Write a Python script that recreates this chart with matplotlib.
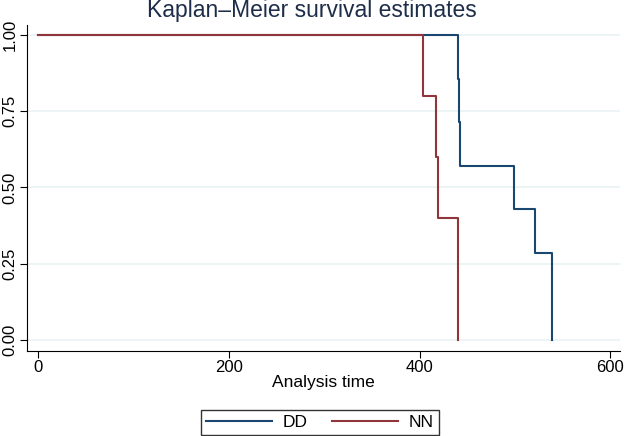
import numpy as np
import matplotlib.pyplot as plt

plt.rcParams['font.family'] = ['Liberation Sans', 'DejaVu Sans']

# survival curves (step points)
dd_time = [0, 440, 441, 442, 499, 521, 539]
dd_surv = [1.0, 0.857, 0.714, 0.571, 0.429, 0.286, 0.0]
nn_time = [0, 403, 417, 419.5, 440]
nn_surv = [1.0, 0.8, 0.6, 0.4, 0.0]
x_ticks = [0, 200, 400, 600]
y_ticks = [0, 0.25, 0.5, 0.75, 1.0]

navy = '#1a476f'
maroon = '#90353b'

fig = plt.figure(figsize=(6.24, 4.36), dpi=100)
ax = fig.add_axes([27/624, 1-350.5/436, 593/624, 325.5/436])

ax.step(dd_time, dd_surv, where='post', color=navy, lw=1.5, label='DD')
ax.step(nn_time, nn_surv, where='post', color=maroon, lw=1.5, label='NN')

ax.set_xlim(-12, 610)
ax.set_ylim(-0.035, 1.033)
ax.set_xticks(x_ticks)
ax.set_yticks(y_ticks)
ax.set_yticklabels(['%.2f' % v for v in y_ticks], rotation=90, va='center')
ax.tick_params(labelsize=12, length=5, color='black', pad=2)
ax.grid(axis='y', color='#eaf2f3', lw=1.2)
ax.set_axisbelow(True)
for s in ['top', 'right']:
    ax.spines[s].set_visible(False)

ax.set_xlabel('Analysis time', fontsize=12.5, labelpad=0)
fig.text(0.5, 1-11/436, 'Kaplan\u2013Meier survival estimates', fontsize=16.5,
         ha='center', va='center', color='#1e2e4a')

fig.legend(loc='lower center', bbox_to_anchor=(320/624, 0.0), ncol=2, fontsize=12.5,
           frameon=True, fancybox=False, edgecolor='black', handlelength=3.8,
           handletextpad=0.6, columnspacing=1.4, borderpad=0.3, borderaxespad=0.05)

fig.savefig('out.png', dpi=100)
